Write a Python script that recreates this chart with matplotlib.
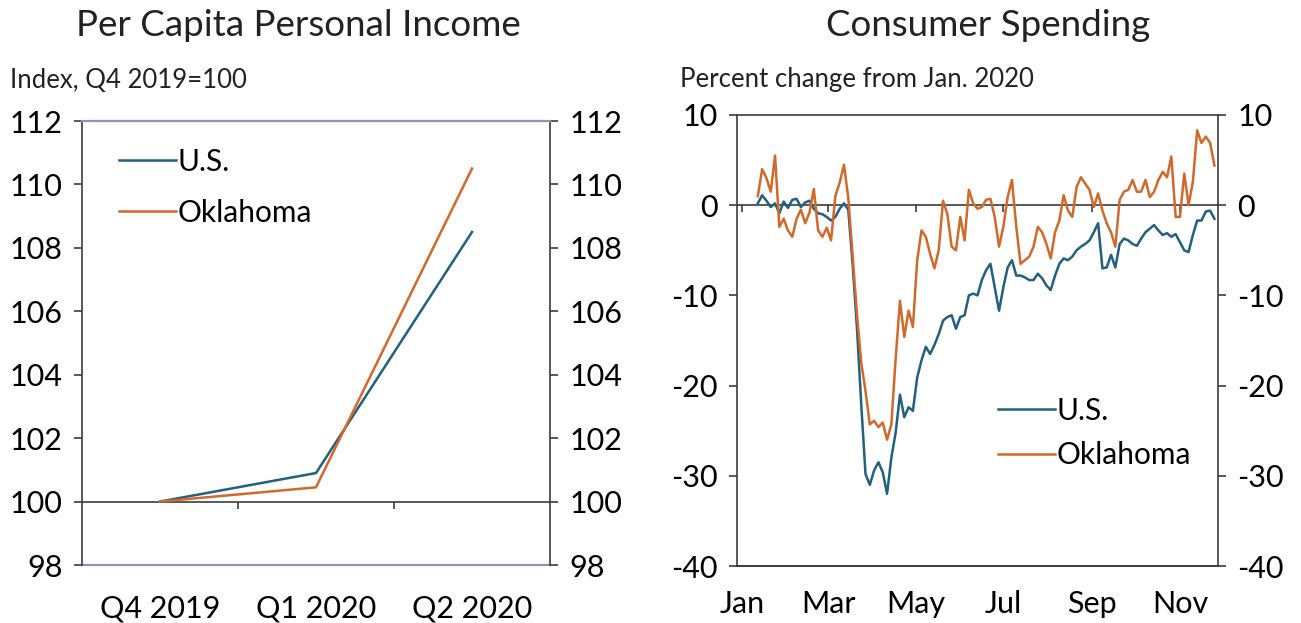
import matplotlib
matplotlib.use("Agg")
import matplotlib.pyplot as plt
import matplotlib.dates as mdates
import pandas as pd
import numpy as np

plt.rcParams['font.family'] = ['Lato', 'DejaVu Sans']
plt.rcParams['axes.unicode_minus'] = False

# ---------------- data ----------------
quarters = ["Q4 2019", "Q1 2020", "Q2 2020"]
income_us = [100.0, 100.9, 108.5]
income_ok = [100.0, 100.45, 110.5]

spend_start = "2020-01-12"
spend_step_days = 3
spend_us = [0.2, 1.1, 0.5, -0.2, 0.2, -0.9, 0.4, -0.3, 0.6, 0.7,
            -0.2, 0.3, 0.5, -0.4, -0.9, -1.0, -1.3, -1.7, -1.3, -0.4,
            0.2, -0.5, -6.5, -13.5, -22.0, -29.8, -31.0, -29.4, -28.5, -29.6,
            -32.0, -28.0, -25.2, -21.0, -23.5, -22.4, -22.8, -19.1, -17.2, -15.7,
            -16.5, -15.5, -14.3, -12.8, -12.4, -12.2, -13.7, -12.4, -12.2, -10.0,
            -9.8, -10.0, -8.3, -7.2, -6.5, -9.1, -11.7, -9.1, -6.9, -6.1,
            -7.8, -7.8, -8.0, -8.3, -8.3, -7.6, -8.1, -8.9, -9.4, -7.8,
            -6.5, -5.9, -6.1, -5.7, -5.0, -4.6, -4.3, -3.9, -3.0, -2.0,
            -7.0, -6.9, -5.5, -6.9, -4.3, -3.7, -3.9, -4.3, -4.5, -3.7,
            -3.0, -2.6, -2.2, -2.8, -3.3, -3.1, -3.5, -3.2, -4.1, -5.0,
            -5.2, -3.3, -1.7, -1.7, -0.7, -0.6, -1.5]
spend_ok = [1.0, 4.0, 3.0, 1.5, 5.5, -2.4, -1.5, -2.8, -3.5, -1.5,
            -0.5, -2.0, -0.8, 1.8, -2.8, -3.5, -2.5, -3.9, 1.0, 2.5,
            4.5, 0.8, -5.5, -12.0, -17.4, -20.6, -24.3, -23.9, -24.6, -24.1,
            -26.0, -24.3, -17.0, -10.6, -14.6, -11.7, -13.5, -6.1, -2.8, -3.5,
            -5.4, -7.0, -5.0, 0.5, -1.0, -4.6, -5.0, -1.3, -3.9, 1.7,
            0.2, -0.4, -0.2, 0.6, 0.7, -1.3, -4.6, -2.4, 0.9, 2.8,
            -2.4, -6.5, -6.1, -5.7, -4.6, -2.4, -3.0, -4.3, -5.9, -3.0,
            -1.7, 1.1, -0.6, -1.3, 2.0, 3.1, 2.4, 1.7, -0.2, 1.3,
            -0.6, -2.0, -3.0, -4.6, 0.6, 1.5, 1.7, 2.8, 1.5, 1.5,
            2.8, 0.9, 1.5, 2.8, 3.7, 3.1, 5.4, -1.3, -1.3, 3.5,
            0.0, 2.6, 8.3, 6.9, 7.6, 6.9, 4.4]
month_ticks = ["2020-01-01", "2020-03-01", "2020-05-01", "2020-07-01", "2020-09-01", "2020-11-01"]
month_labels = ["Jan", "Mar", "May", "Jul", "Sep", "Nov"]

# ---------------- style ----------------
C_US = "#22607f"
C_OK = "#d2692b"
C_AX = "#3c3c3c"
C_PURPLE = "#9d8db5"
TICK_FS = 22
LEG_FS = 21.5
TITLE_FS = 26.5
SUB_FS = 18.5

W, H = 1301, 623
fig = plt.figure(figsize=(W / 100, H / 100), dpi=100)


def frac(x0, y0, x1, y1):
    return [x0 / W, 1 - y1 / H, (x1 - x0) / W, (y1 - y0) / H]


# ---------------- left panel ----------------
ax1 = fig.add_axes(frac(82, 121, 550, 565))
xq = np.arange(len(quarters))
ax1.plot(xq, income_us, color=C_US, lw=1.8, label="U.S.")
ax1.plot(xq, income_ok, color=C_OK, lw=1.8, label="Oklahoma")
ax1.set_xlim(-0.5, len(quarters) - 0.5)
ax1.set_ylim(98, 112)
ax1.set_yticks(np.arange(98, 113, 2))
ax1.tick_params(axis='y', which='both', left=True, right=True, labelleft=True, labelright=True,
                direction='out', length=6, width=1.2, color=C_AX, labelsize=TICK_FS, pad=8)
ax1.axhline(100, color=C_AX, lw=1.2, zorder=1)
ax1.spines['bottom'].set_position(('data', 100))
ax1.spines['bottom'].set_visible(False)
ax1.set_xticks(xq[:-1] + 0.5)
ax1.tick_params(axis='x', direction='out', length=5, width=1.2, color=C_AX, labelbottom=False)
sec1 = ax1.secondary_xaxis('bottom')
sec1.set_xticks(xq)
sec1.set_xticklabels(quarters)
sec1.tick_params(length=0, labelsize=TICK_FS, pad=21)
sec1.spines['bottom'].set_color(C_PURPLE)
sec1.spines['bottom'].set_linewidth(1.6)
ax1.spines['top'].set_color(C_PURPLE)
ax1.spines['top'].set_linewidth(1.6)
for s in ('left', 'right'):
    ax1.spines[s].set_color(C_AX)
    ax1.spines[s].set_linewidth(1.2)
leg1 = ax1.legend(loc='upper left', bbox_to_anchor=(0.08, 0.94), frameon=False, fontsize=LEG_FS,
                  handlelength=1.9, handletextpad=0.05, labelspacing=0.78, borderpad=0, borderaxespad=0)

fig.text(298 / W, 1 - 25 / H, "Per Capita Personal Income", ha='center', va='center',
         fontsize=TITLE_FS, color="#222222")
fig.text(10 / W, 1 - 80 / H, "Index, Q4 2019=100", ha='left', va='center', fontsize=SUB_FS, color="#222222")

# ---------------- right panel ----------------
ax2 = fig.add_axes(frac(737, 115, 1218, 566))
dates = pd.date_range(spend_start, periods=len(spend_us), freq=f"{spend_step_days}D")
ax2.plot(dates, spend_us, color=C_US, lw=1.8, label="U.S.")
ax2.plot(dates, spend_ok, color=C_OK, lw=1.8, label="Oklahoma")
jan1 = pd.Timestamp("2020-01-01")
ax2.set_xlim(jan1 - pd.Timedelta(days=3.5), jan1 + pd.Timedelta(days=331.5))
ax2.set_ylim(-40, 10)
ax2.set_yticks(np.arange(-40, 11, 10))
ax2.tick_params(axis='y', which='both', left=True, right=True, labelleft=True, labelright=True,
                direction='out', length=6, width=1.2, color=C_AX, labelsize=TICK_FS, pad=8)
ax2.axhline(0, color=C_AX, lw=1.2, zorder=1)
ax2.spines['bottom'].set_visible(False)
tick_dates = pd.to_datetime(month_ticks)
ax2.set_xticks(tick_dates)
ax2.tick_params(axis='x', direction='out', length=5, width=1.2, color=C_AX, labelbottom=False)
ax2.spines['bottom'].set_position(('data', 0))
sec2 = ax2.secondary_xaxis('bottom')
sec2.set_xticks(tick_dates)
sec2.set_xticklabels(month_labels)
sec2.tick_params(length=0, labelsize=TICK_FS, pad=17)
sec2.spines['bottom'].set_color(C_AX)
sec2.spines['bottom'].set_linewidth(1.4)
for s in ('left', 'right', 'top'):
    ax2.spines[s].set_color(C_AX)
    ax2.spines[s].set_linewidth(1.2)
leg2 = ax2.legend(loc='upper left', bbox_to_anchor=(0.543, 0.375), frameon=False, fontsize=LEG_FS,
                  handlelength=1.9, handletextpad=0.05, labelspacing=0.55, borderpad=0, borderaxespad=0)

fig.text(988 / W, 1 - 25 / H, "Consumer Spending", ha='center', va='center',
         fontsize=TITLE_FS, color="#222222")
fig.text(680 / W, 1 - 80 / H, "Percent change from Jan. 2020", ha='left', va='center',
         fontsize=SUB_FS, color="#222222")

fig.savefig("out.png", dpi=100)
